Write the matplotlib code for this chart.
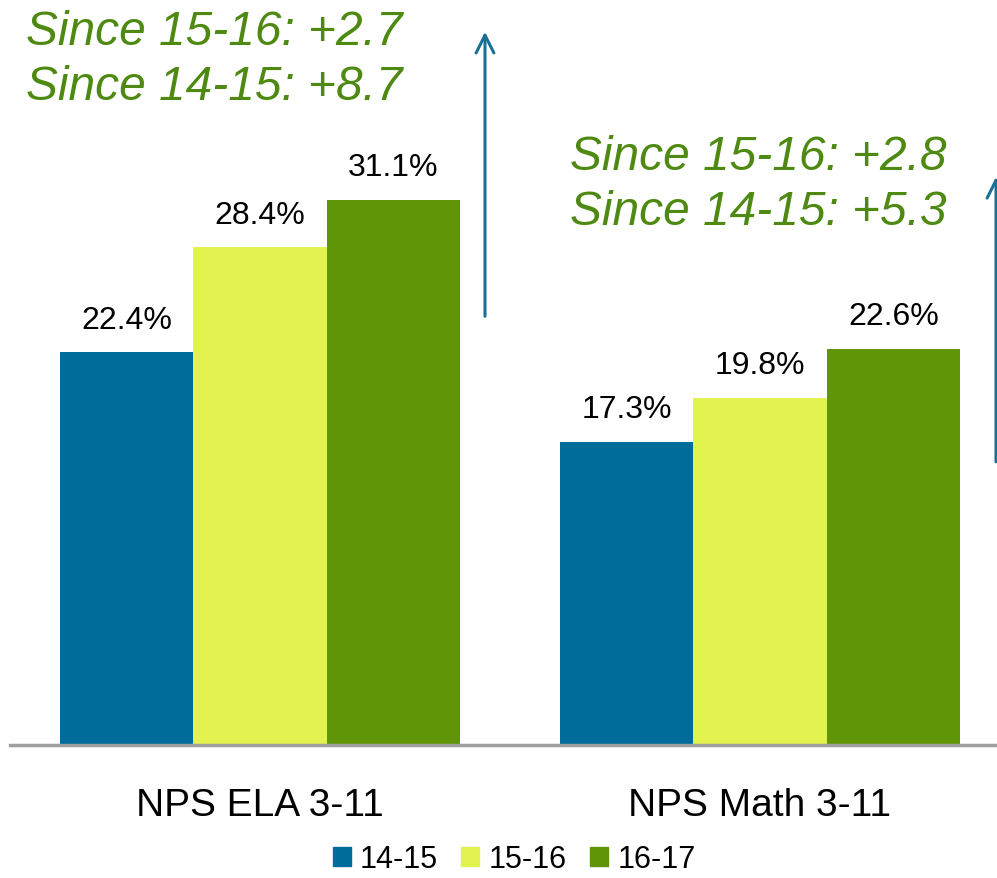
import numpy as np
import matplotlib.pyplot as plt
from matplotlib.patches import Patch

plt.rcParams['font.family'] = ['Liberation Sans', 'DejaVu Sans']

# data
categories = ['NPS ELA 3-11', 'NPS Math 3-11']
years = ['14-15', '15-16', '16-17']
values = {
    '14-15': [22.4, 17.3],
    '15-16': [28.4, 19.8],
    '16-17': [31.1, 22.6],
}
colors = ['#006C9A', '#E2F24E', '#5F9506']
notes = [['Since 15-16: +2.7', 'Since 14-15: +8.7'],
         ['Since 15-16: +2.8', 'Since 14-15: +5.3']]

fig = plt.figure(figsize=(9.97, 8.79), dpi=100)
# axes spans pixel x 10..1010, y 0..746 (from top)
ax = fig.add_axes([10 / 997, 1 - 746 / 879, 1000 / 997, 746 / 879])

x = np.arange(len(categories))
width = 0.8 / 3
for i, yr in enumerate(years):
    pos = x + (i - 1) * width
    bars = ax.bar(pos, values[yr], width, color=colors[i], label=yr)
    for b, v in zip(bars, values[yr]):
        ax.text(b.get_x() + b.get_width() / 2, v + 1.0, '%.1f%%' % v,
                ha='center', va='bottom', fontsize=23, color='black')

ax.set_xlim(-0.5, 1.5)
ax.set_ylim(0, 42.56)

# growth arrows
arrow_color = '#1A6F96'
ax.annotate('', xy=(0.45, 40.85), xytext=(0.45, 24.3),
            arrowprops=dict(arrowstyle='->', color=arrow_color, lw=2.2,
                            mutation_scale=32))
ax.annotate('', xy=(1.472, 32.57), xytext=(1.472, 16.0),
            arrowprops=dict(arrowstyle='->', color=arrow_color, lw=2.2,
                            mutation_scale=32))

# growth notes, one line at a time (pixel baselines from the top)
note_color = '#4E8A12'
note_spots = [(26, [45, 100]), (570, [170, 225])]
for lines, (px, baselines) in zip(notes, note_spots):
    for line, py in zip(lines, baselines):
        fig.text(px / 997, 1 - py / 879, line, fontsize=34.5, style='italic',
                 color=note_color, ha='left', va='baseline')

for s in ['top', 'right', 'left']:
    ax.spines[s].set_visible(False)
ax.spines['bottom'].set_color('#A0A0A0')
ax.spines['bottom'].set_linewidth(2.5)
ax.set_yticks([])
ax.set_xticks(x)
ax.set_xticklabels(categories, fontsize=28)
ax.tick_params(axis='x', length=0, pad=30)

handles = [Patch(color=c, label=yr) for c, yr in zip(colors, years)]
fig.legend(handles=handles, loc='center', bbox_to_anchor=(514 / 997, 1 - 860 / 879),
           ncol=3, frameon=False, fontsize=22, handlelength=0.6, handleheight=0.6,
           handletextpad=0.3, columnspacing=0.75, borderpad=0.1)

fig.savefig('out.png', dpi=100)
